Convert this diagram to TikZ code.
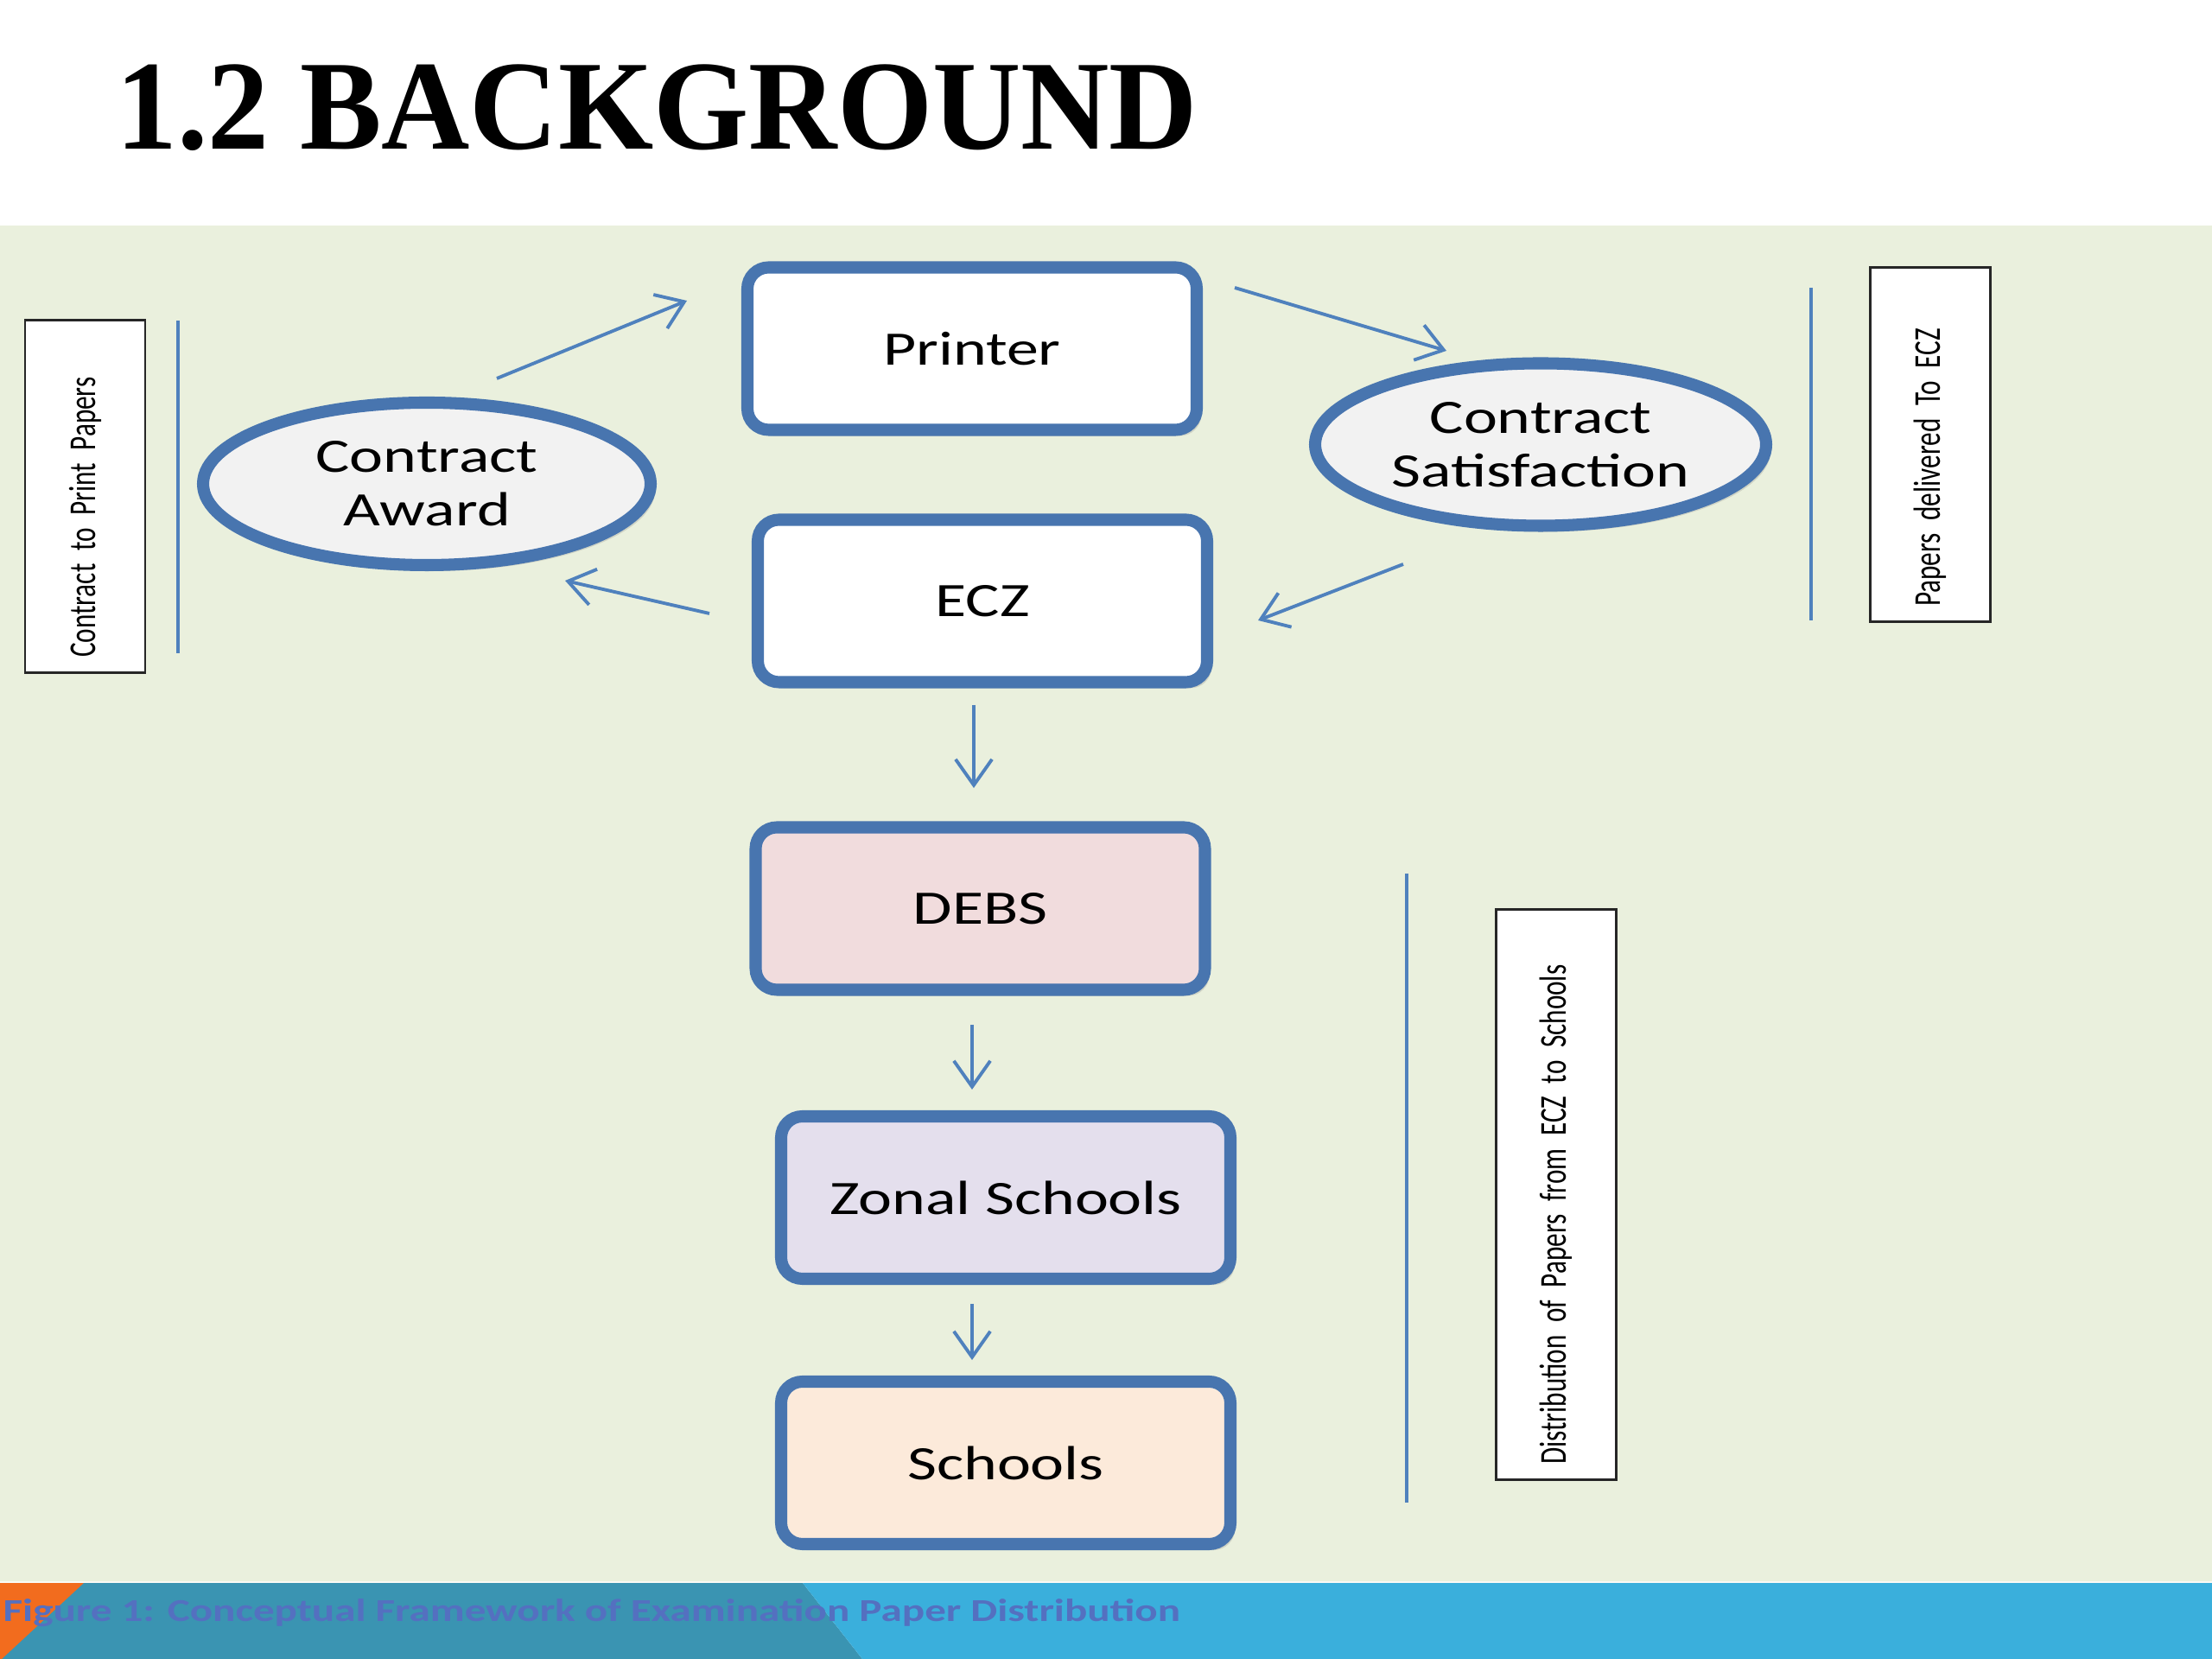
\documentclass[tikz,border=0pt]{standalone}
\usepackage{fontspec}
\usepackage{xcolor}
\usepackage{tikz}
\usetikzlibrary{shapes.geometric, arrows.meta, shadows}
\newfontfamily\boxfont[FakeStretch=1.33]{Carlito}
\newfontfamily\sidefont[FakeStretch=0.71]{Carlito}
\newfontfamily\titlefont[FakeStretch=0.96]{Liberation Serif}
\definecolor{slideGreen}{RGB}{234, 240, 221}
\definecolor{borderBlue}{RGB}{72, 117, 175}
\definecolor{lineBlue}{RGB}{79, 129, 189}
\definecolor{barTeal}{RGB}{58, 148, 178}
\definecolor{barBlue}{RGB}{58, 175, 220}
\definecolor{barOrange}{RGB}{242, 108, 30}
\definecolor{captionBlue}{RGB}{84, 112, 192}
\definecolor{debsPink}{RGB}{241, 220, 221}
\definecolor{zonalLilac}{RGB}{228, 223, 237}
\definecolor{schoolPeach}{RGB}{252, 234, 218}
\definecolor{ovalGray}{RGB}{242, 242, 242}

\begin{document}
\begin{tikzpicture}[
    procbox/.style={draw=borderBlue, line width=4pt, rounded corners=7pt, fill=white, minimum width=5.2cm, minimum height=1.88cm, font={\boxfont\fontsize{15.8}{17.6}\selectfont}, drop shadow={shadow xshift=1.5pt, shadow yshift=-2pt, opacity=0.25}},
    oval/.style={ellipse, draw=borderBlue, line width=4pt, fill=ovalGray, inner sep=0pt, minimum width=5.18cm, minimum height=1.88cm, align=center, font={\boxfont\fontsize{15.8}{17.6}\selectfont}, drop shadow={shadow xshift=1.5pt, shadow yshift=-2pt, opacity=0.25}},
    sidebox/.style={draw=black!85, line width=0.85pt, fill=white, rotate=90, minimum height=1.39cm, inner xsep=0.18cm, align=left, font={\sidefont\fontsize{12.5}{14}\selectfont\spaceskip=2.3pt\relax}},
    flow/.style={lineBlue, line width=1.1pt, -{Straight Barb[length=8.5pt, width=12pt]}},
    bracket/.style={lineBlue, line width=1.1pt}
  ]
    \useasboundingbox (0,0) rectangle (25.6,19.2);
    % Slide background
    \fill[white] (0,16.59) rectangle (25.6,19.2);
    \fill[slideGreen] (0,0.88) rectangle (25.6,16.59);
    \fill[barTeal] (0,0) -- (0,0.88) -- (9.29,0.88) -- (9.98,0) -- cycle;
    \fill[barBlue] (9.29,0.88) -- (25.6,0.88) -- (25.6,0) -- (9.98,0) -- cycle;
    \fill[barOrange] (0,0.88) -- (0.97,0.88) -- (0.02,0) -- (0,0) -- cycle;
    \draw[white!70!slideGreen, line width=0.6pt] (0,0.89) -- (25.6,0.89);
    % Title and caption
    \node[anchor=base west, inner sep=0pt, font={\titlefont\bfseries\fontsize{42}{48}\selectfont}] (title) at (1.34,17.47) {1.2 BACKGROUND};
    \node[anchor=base west, inner sep=0pt, text=captionBlue, font={\boxfont\bfseries\fontsize{10.5}{12}\selectfont}] (caption) at (0.03,0.43) {Figure 1: Conceptual Framework of Examination Paper Distribution};
    % Process boxes
    \node[procbox] (printer) at (11.25,15.165) {Printer};
    \node[procbox] (ecz) at (11.37,12.245) {ECZ};
    \node[procbox, fill=debsPink] (debs) at (11.345,8.685) {DEBS};
    \node[procbox, fill=zonalLilac] (zonal) at (11.64,5.34) {Zonal Schools};
    \node[procbox, fill=schoolPeach] (schools) at (11.64,2.27) {Schools};
    % Ovals
    \node[oval] (award) at (4.94,13.60) {Contract\\Award};
    \node[oval, minimum width=5.22cm] (satisf) at (17.83,14.055) {Contract\\Satisfaction};
    % Side labels
    \node[sidebox, minimum width=4.08cm, text width=3.72cm] (printLbl) at (0.985,13.45) {Contract to Print Papers};
    \node[sidebox, minimum width=4.10cm, text width=3.74cm] (deliverLbl) at (22.335,14.05) {Papers delivered To ECZ};
    \node[sidebox, minimum width=6.60cm, text width=6.24cm] (distLbl) at (18.01,5.37) {Distribution of Papers from ECZ to Schools};
    % Arrow ends
    \coordinate (awardOut) at (5.75,14.82);
    \coordinate (printerIn) at (7.95,15.72);
    \coordinate (printerOut) at (14.29,15.87);
    \coordinate (satisfIn) at (16.74,15.14);
    \coordinate (satisfOut) at (16.24,12.67);
    \coordinate (eczIn) at (14.56,12.02);
    \coordinate (eczOut) at (8.21,12.10);
    \coordinate (awardIn) at (6.54,12.48);
    \coordinate (eczDown) at (11.27,11.04);
    \coordinate (debsIn) at (11.27,10.08);
    \coordinate (debsDown) at (11.25,7.34);
    \coordinate (zonalIn) at (11.25,6.59);
    \coordinate (zonalDown) at (11.25,4.11);
    \coordinate (schoolsIn) at (11.25,3.46);
    % Arrows
    \draw[flow] (awardOut) -- (printerIn);
    \draw[flow] (printerOut) -- (satisfIn);
    \draw[flow] (satisfOut) -- (eczIn);
    \draw[flow] (eczOut) -- (awardIn);
    \draw[flow] (eczDown) -- (debsIn);
    \draw[flow] (debsDown) -- (zonalIn);
    \draw[flow] (zonalDown) -- (schoolsIn);
    % Bracket lines
    \coordinate (printTop) at (2.06,15.49);
    \coordinate (printBot) at (2.06,11.64);
    \coordinate (deliverTop) at (20.96,15.87);
    \coordinate (deliverBot) at (20.96,12.02);
    \coordinate (distTop) at (16.28,9.09);
    \coordinate (distBot) at (16.28,1.81);
    \draw[bracket] (printTop) -- (printBot);
    \draw[bracket] (deliverTop) -- (deliverBot);
    \draw[bracket] (distTop) -- (distBot);
  \end{tikzpicture}
\end{document}
